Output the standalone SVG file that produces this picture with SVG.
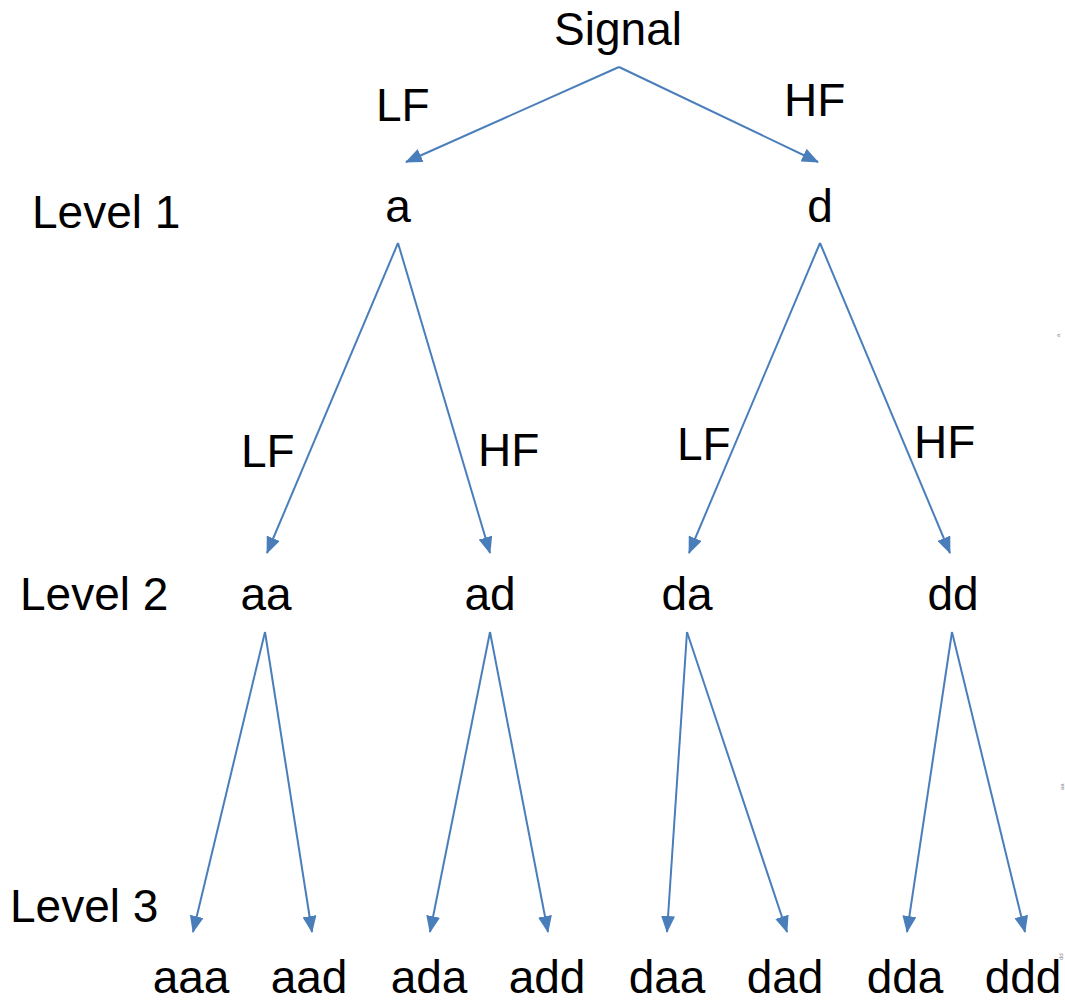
<svg xmlns="http://www.w3.org/2000/svg" width="1065" height="1001" viewBox="0 0 1065 1001">
<style>
text{font-family:"Liberation Sans",Arial,sans-serif;font-size:46px;fill:#000}
.c line{stroke:#4a7ebb;stroke-width:2;marker-end:url(#ah)}
.m{text-anchor:middle}
.tiny{font-size:6px;fill:#888}
</style>
<defs>
<marker id="ah" viewBox="0 0 17 14" refX="16" refY="7" markerWidth="17" markerHeight="14" markerUnits="userSpaceOnUse" orient="auto">
<path d="M0,0 L17,7 L0,14 z" fill="#4a7ebb"/>
</marker>
</defs>
<rect width="1065" height="1001" fill="#fff"/>
<g class="c">
<line x1="619" y1="67" x2="406" y2="162"/>
<line x1="619" y1="67" x2="818" y2="162"/>
<line x1="398" y1="243" x2="267" y2="553"/>
<line x1="398" y1="243" x2="490" y2="553"/>
<line x1="820" y1="243" x2="689" y2="553"/>
<line x1="820" y1="243" x2="950" y2="553"/>
<line x1="265" y1="632" x2="193" y2="932"/>
<line x1="265" y1="632" x2="312" y2="932"/>
<line x1="490" y1="632" x2="430" y2="932"/>
<line x1="490" y1="632" x2="548" y2="932"/>
<line x1="687" y1="632" x2="667" y2="932"/>
<line x1="687" y1="632" x2="787" y2="932"/>
<line x1="952" y1="632" x2="907" y2="932"/>
<line x1="952" y1="632" x2="1025" y2="932"/>
</g>
<g id="signal"><text class="m" x="618" y="45">Signal</text></g>
<g id="lbl-lf0"><text x="376" y="121">LF</text></g>
<g id="lbl-hf0"><text x="784" y="116">HF</text></g>
<g id="level1"><text x="32" y="228">Level 1</text></g>
<g id="n-a"><text class="m" x="398" y="222">a</text></g>
<g id="n-d"><text class="m" x="820" y="222">d</text></g>
<g id="lbl-lf1"><text x="241" y="467">LF</text></g>
<g id="lbl-hf1"><text x="478" y="466">HF</text></g>
<g id="lbl-lf2"><text x="677" y="460">LF</text></g>
<g id="lbl-hf2"><text x="914" y="458">HF</text></g>
<g id="level2"><text x="20" y="610">Level 2</text></g>
<g id="n-aa"><text class="m" x="266" y="610">aa</text></g>
<g id="n-ad"><text class="m" x="490" y="610">ad</text></g>
<g id="n-da"><text class="m" x="687" y="610">da</text></g>
<g id="n-dd"><text class="m" x="953" y="610">dd</text></g>
<g id="level3"><text x="10" y="922">Level 3</text></g>
<g id="n-aaa"><text class="m" x="191" y="993">aaa</text></g>
<g id="n-aad"><text class="m" x="309" y="993">aad</text></g>
<g id="n-ada"><text class="m" x="429" y="993">ada</text></g>
<g id="n-add"><text class="m" x="547" y="993">add</text></g>
<g id="n-daa"><text class="m" x="667" y="993">daa</text></g>
<g id="n-dad"><text class="m" x="785" y="993">dad</text></g>
<g id="n-dda"><text class="m" x="905" y="993">dda</text></g>
<g id="n-ddd"><text class="m" x="1023" y="993">ddd</text></g>
<g id="tiny-labels">
<text class="tiny" transform="translate(1060,337) rotate(-90)">a</text>
<text class="tiny" transform="translate(1064,790) rotate(-90)">aa</text>
<text class="tiny" transform="translate(1063,960) rotate(-90)">dd</text>
</g>
</svg>
